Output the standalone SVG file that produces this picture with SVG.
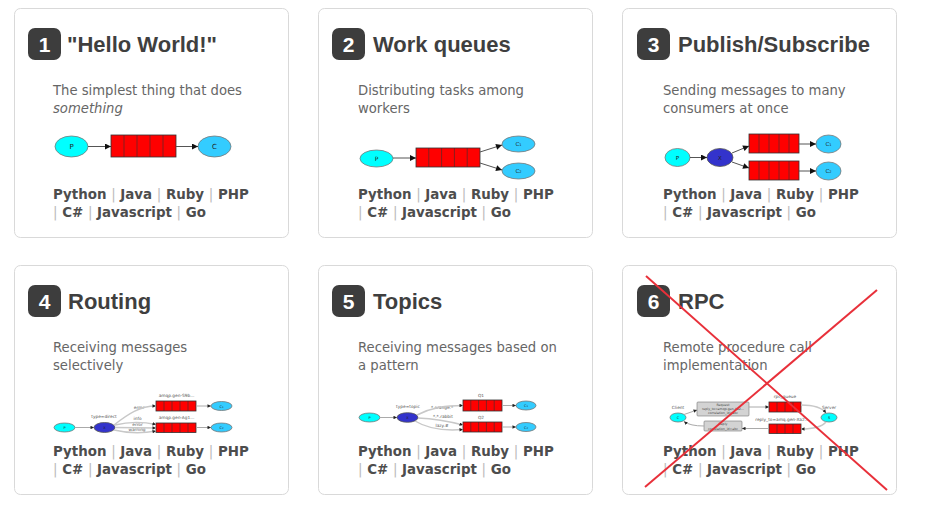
<svg xmlns="http://www.w3.org/2000/svg" width="930" height="511" viewBox="0 0 930 511">
<style>
.card{fill:#fff;stroke:#d9d9d9;stroke-width:1}
.badge{fill:#3d3d3d}
.num{font-family:"Liberation Sans",Arial,sans-serif;font-weight:bold;font-size:21px;fill:#fff;text-anchor:middle}
.title{font-family:"Liberation Sans",Arial,sans-serif;font-weight:bold;font-size:22px;fill:#3f3f3f}
.desc{font-family:"DejaVu Sans",Verdana,sans-serif;font-size:13.2px;fill:#666}
.links{font-family:"DejaVu Sans",Verdana,sans-serif;font-weight:bold;font-size:13.4px;fill:#4d4d4d}
.sep{fill:#bbb;font-weight:normal}
.prod{fill:#00ffff;stroke:#777;stroke-width:0.8}
.cons{fill:#33ccff;stroke:#777;stroke-width:0.8}
.exch{fill:#3333cc;stroke:#555;stroke-width:0.8}
.q{fill:#ff0000;stroke:#333;stroke-width:0.8}
.cell{stroke:#333;stroke-width:0.6}
.box{fill:#d3d3d3;stroke:#777;stroke-width:0.6}
.lbl{font-family:"DejaVu Sans",Verdana,sans-serif;fill:#222;text-anchor:middle}
.tiny{font-family:"DejaVu Sans",Verdana,sans-serif;font-size:4.3px;fill:#555;text-anchor:middle}
.mic{font-family:"DejaVu Sans",Verdana,sans-serif;font-size:3.2px;fill:#444;text-anchor:middle}
.arr{fill:none;stroke:#555;stroke-width:1;marker-end:url(#ah)}
.arrs{fill:none;stroke:#aaa;stroke-width:1;marker-end:url(#ahs)}
.curve{fill:none;stroke:#c8c8c8;stroke-width:1.4;marker-end:url(#ahs)}
.cross{stroke:#e8303a;stroke-width:2;fill:none}
</style>
<defs>
<marker id="ah" viewBox="0 0 10 10" refX="10" refY="5" markerWidth="7" markerHeight="6" markerUnits="userSpaceOnUse" orient="auto"><path d="M0,0 L10,5 L0,10 z" fill="#111"/></marker>
<marker id="ahs" viewBox="0 0 10 10" refX="10" refY="5" markerWidth="4" markerHeight="3.5" markerUnits="userSpaceOnUse" orient="auto"><path d="M0,0 L10,5 L0,10 z" fill="#222"/></marker>
</defs>

<!-- Card 1 -->
<g id="card1">
<rect class="card" x="14.5" y="8.5" width="274" height="229" rx="6"/>
<rect class="badge" x="28" y="28" width="33" height="32" rx="7"/>
<text class="num" x="44.5" y="52">1</text>
<text class="title" x="67" y="52">"Hello World!"</text>
<text class="desc" x="53" y="95">The simplest thing that does</text>
<text class="desc" x="53" y="113" font-style="italic">something</text>
<ellipse class="prod" cx="71.5" cy="146.5" rx="16.5" ry="10.5"/>
<text class="lbl" x="71.5" y="149" font-size="7">P</text>
<rect class="q" x="111" y="135" width="65" height="22"/>
<path class="cell" d="M124,135V157M137,135V157M150,135V157M163,135V157"/>
<ellipse class="cons" cx="214.5" cy="146.5" rx="16.5" ry="10.5"/>
<text class="lbl" x="214.5" y="149" font-size="7">C</text>
<text class="links" x="53" y="199">Python <tspan class="sep">|</tspan> Java <tspan class="sep">|</tspan> Ruby <tspan class="sep">|</tspan> PHP</text>
<text class="links" x="53" y="217"><tspan class="sep">|</tspan> C# <tspan class="sep">|</tspan> Javascript <tspan class="sep">|</tspan> Go</text>
</g>

<!-- Card 2 -->
<g id="card2">
<rect class="card" x="318.5" y="8.5" width="274" height="229" rx="6"/>
<rect class="badge" x="332" y="28" width="33" height="32" rx="7"/>
<text class="num" x="348.5" y="52">2</text>
<text class="title" x="373" y="52">Work queues</text>
<text class="desc" x="358" y="95">Distributing tasks among</text>
<text class="desc" x="358" y="113">workers</text>
<ellipse class="prod" cx="376.5" cy="158.5" rx="16.5" ry="8.5"/>
<text class="lbl" x="376.5" y="161" font-size="6" fill="#555">P</text>
<rect class="q" x="416" y="148" width="64" height="19"/>
<path class="cell" d="M428.8,148V167M441.6,148V167M454.4,148V167M467.2,148V167"/>
<ellipse class="cons" cx="518.5" cy="144" rx="16.5" ry="8"/>
<text class="lbl" x="518.5" y="146" font-size="5.5" fill="#555">C<tspan font-size="3.5">1</tspan></text>
<ellipse class="cons" cx="518.5" cy="171" rx="16.5" ry="8"/>
<text class="lbl" x="518.5" y="173" font-size="5.5" fill="#555">C<tspan font-size="3.5">2</tspan></text>
<text class="links" x="358" y="199">Python <tspan class="sep">|</tspan> Java <tspan class="sep">|</tspan> Ruby <tspan class="sep">|</tspan> PHP</text>
<text class="links" x="358" y="217"><tspan class="sep">|</tspan> C# <tspan class="sep">|</tspan> Javascript <tspan class="sep">|</tspan> Go</text>
</g>

<!-- Card 3 -->
<g id="card3">
<rect class="card" x="622.5" y="8.5" width="274" height="229" rx="6"/>
<rect class="badge" x="637" y="28" width="33" height="32" rx="7"/>
<text class="num" x="653.5" y="52">3</text>
<text class="title" x="678" y="52">Publish/Subscribe</text>
<text class="desc" x="663" y="95">Sending messages to many</text>
<text class="desc" x="663" y="113">consumers at once</text>
<ellipse class="prod" cx="677.5" cy="157.5" rx="12.5" ry="9"/>
<text class="lbl" x="677.5" y="159.5" font-size="5.5" fill="#555">P</text>
<ellipse class="exch" cx="720" cy="157.5" rx="13" ry="9"/>
<text class="lbl" x="720" y="159.5" font-size="5.5" fill="#222">X</text>
<rect class="q" x="749" y="134" width="50" height="19"/>
<path class="cell" d="M759,134V153M769,134V153M779,134V153M789,134V153"/>
<rect class="q" x="749" y="161" width="50" height="19"/>
<path class="cell" d="M759,161V180M769,161V180M779,161V180M789,161V180"/>
<ellipse class="cons" cx="828.5" cy="144" rx="12.5" ry="9"/>
<text class="lbl" x="828.5" y="146" font-size="5.5" fill="#555">C<tspan font-size="3.5">1</tspan></text>
<ellipse class="cons" cx="828.5" cy="171" rx="12.5" ry="9"/>
<text class="lbl" x="828.5" y="173" font-size="5.5" fill="#555">C<tspan font-size="3.5">2</tspan></text>
<text class="links" x="663" y="199">Python <tspan class="sep">|</tspan> Java <tspan class="sep">|</tspan> Ruby <tspan class="sep">|</tspan> PHP</text>
<text class="links" x="663" y="217"><tspan class="sep">|</tspan> C# <tspan class="sep">|</tspan> Javascript <tspan class="sep">|</tspan> Go</text>
</g>

<!-- Card 4 -->
<g id="card4">
<rect class="card" x="14.5" y="265.5" width="274" height="229" rx="6"/>
<rect class="badge" x="28" y="285" width="33" height="32" rx="7"/>
<text class="num" x="44.5" y="309">4</text>
<text class="title" x="68" y="309">Routing</text>
<text class="desc" x="53" y="352">Receiving messages</text>
<text class="desc" x="53" y="370">selectively</text>
<ellipse class="prod" cx="64.5" cy="427.5" rx="10.5" ry="4.5"/>
<text class="lbl" x="64.5" y="429" font-size="3.5" fill="#555">P</text>
<ellipse class="exch" cx="104.5" cy="427.5" rx="10.5" ry="5"/>
<text class="lbl" x="104.5" y="429" font-size="3.5">X</text>
<text class="tiny" x="104" y="418">type=direct</text>
<rect class="q" x="156" y="401" width="40" height="10"/>
<path class="cell" d="M164,401V411M172,401V411M180,401V411M188,401V411"/>
<text class="tiny" x="176.5" y="396.5">amqp.gen-S9b...</text>
<rect class="q" x="156" y="423" width="40" height="9.5"/>
<path class="cell" d="M164,423V432.5M172,423V432.5M180,423V432.5M188,423V432.5"/>
<text class="tiny" x="176.5" y="418.5">amqp.gen-Ag1...</text>
<ellipse class="cons" cx="221.5" cy="406" rx="10.5" ry="4.5"/>
<text class="lbl" x="221.5" y="407.5" font-size="3.5" fill="#555">C<tspan font-size="2.5">1</tspan></text>
<ellipse class="cons" cx="221.5" cy="427.5" rx="10.5" ry="4.5"/>
<text class="lbl" x="221.5" y="429" font-size="3.5" fill="#555">C<tspan font-size="2.5">2</tspan></text>
<text class="tiny" x="139" y="409">error</text>
<text class="tiny" x="137.5" y="420">info</text>
<text class="tiny" x="137.5" y="425.5">error</text>
<text class="tiny" x="137" y="431">warning</text>
<text class="links" x="53" y="456">Python <tspan class="sep">|</tspan> Java <tspan class="sep">|</tspan> Ruby <tspan class="sep">|</tspan> PHP</text>
<text class="links" x="53" y="474"><tspan class="sep">|</tspan> C# <tspan class="sep">|</tspan> Javascript <tspan class="sep">|</tspan> Go</text>
</g>

<!-- Card 5 -->
<g id="card5">
<rect class="card" x="318.5" y="265.5" width="274" height="229" rx="6"/>
<rect class="badge" x="332" y="285" width="33" height="32" rx="7"/>
<text class="num" x="348.5" y="309">5</text>
<text class="title" x="373" y="309">Topics</text>
<text class="desc" x="358" y="352">Receiving messages based on</text>
<text class="desc" x="358" y="370">a pattern</text>
<ellipse class="prod" cx="369.5" cy="417.5" rx="10.5" ry="4.5"/>
<text class="lbl" x="369.5" y="419" font-size="3.5" fill="#555">P</text>
<ellipse class="exch" cx="407.5" cy="417.5" rx="10.5" ry="4.8"/>
<text class="lbl" x="407.5" y="419" font-size="3.5">X</text>
<text class="tiny" x="408" y="408">type=topic</text>
<rect class="q" x="463" y="400" width="39" height="11"/>
<path class="cell" d="M470.8,400V411M478.6,400V411M486.4,400V411M494.2,400V411"/>
<text class="tiny" x="481" y="397">Q1</text>
<rect class="q" x="463" y="422" width="39" height="10"/>
<path class="cell" d="M470.8,422V432M478.6,422V432M486.4,422V432M494.2,422V432"/>
<text class="tiny" x="481" y="419">Q2</text>
<ellipse class="cons" cx="526" cy="405.5" rx="10" ry="4.5"/>
<text class="lbl" x="526" y="407" font-size="3.5" fill="#555">C<tspan font-size="2.5">1</tspan></text>
<ellipse class="cons" cx="526" cy="427" rx="10" ry="4.5"/>
<text class="lbl" x="526" y="428.5" font-size="3.5" fill="#555">C<tspan font-size="2.5">2</tspan></text>
<text class="tiny" x="442" y="408.5">*.orange.*</text>
<text class="tiny" x="443" y="417.5">*.*.rabbit</text>
<text class="tiny" x="442" y="427">lazy.#</text>
<text class="links" x="358" y="456">Python <tspan class="sep">|</tspan> Java <tspan class="sep">|</tspan> Ruby <tspan class="sep">|</tspan> PHP</text>
<text class="links" x="358" y="474"><tspan class="sep">|</tspan> C# <tspan class="sep">|</tspan> Javascript <tspan class="sep">|</tspan> Go</text>
</g>

<!-- Card 6 -->
<g id="card6">
<rect class="card" x="622.5" y="265.5" width="274" height="229" rx="6"/>
<rect class="badge" x="637" y="285" width="33" height="32" rx="7"/>
<text class="num" x="653.5" y="309">6</text>
<text class="title" x="678" y="309">RPC</text>
<text class="desc" x="663" y="352">Remote procedure call</text>
<text class="desc" x="663" y="370">implementation</text>
<ellipse class="prod" cx="678" cy="417.5" rx="8" ry="4.5"/>
<text class="lbl" x="678" y="419" font-size="3.5" fill="#555">C</text>
<text class="tiny" x="678" y="409">Client</text>
<rect class="box" x="697" y="402" width="52" height="14" rx="1"/>
<text class="mic" x="723" y="406">Request</text>
<text class="mic" x="723" y="410">reply_to=amqp.gen-Xa2...</text>
<text class="mic" x="723" y="414">correlation_id=abc</text>
<rect class="q" x="769" y="402" width="32" height="10"/>
<path class="cell" d="M777,402V412M785,402V412M793,402V412"/>
<text class="tiny" x="785" y="398">rpc_queue</text>
<ellipse class="prod" cx="829" cy="417.5" rx="8" ry="4.5"/>
<text class="lbl" x="829" y="419" font-size="3.5" fill="#555">S</text>
<text class="tiny" x="829" y="409">Server</text>
<rect class="q" x="769" y="424" width="32" height="9.5"/>
<path class="cell" d="M777,424V433.5M785,424V433.5M793,424V433.5"/>
<text class="tiny" x="782" y="420.5">reply_to=amq.gen-Xa2...</text>
<rect class="box" x="704" y="421" width="38" height="10" rx="1"/>
<text class="mic" x="723" y="425">Reply</text>
<text class="mic" x="723" y="429.5">correlation_id=abc</text>
<text class="links" x="663" y="456">Python <tspan class="sep">|</tspan> Java <tspan class="sep">|</tspan> Ruby <tspan class="sep">|</tspan> PHP</text>
<text class="links" x="663" y="474"><tspan class="sep">|</tspan> C# <tspan class="sep">|</tspan> Javascript <tspan class="sep">|</tspan> Go</text>
</g>

<g id="connectors">
<!-- 1 -->
<path class="arr" d="M88,146.5H111"/>
<path class="arr" d="M176,146.5H198"/>
<!-- 2 -->
<path class="arr" d="M393,158H416"/>
<path class="arr" d="M480,152L502,145"/>
<path class="arr" d="M480,163L502,170"/>
<!-- 3 -->
<path class="arr" d="M690,157.5H707"/>
<path class="arr" d="M732,153L749,146"/>
<path class="arr" d="M732,162L749,168"/>
<path class="arr" d="M799,144H816"/>
<path class="arr" d="M799,171H816"/>
<!-- 4 -->
<path class="arrs" d="M75,427.5H94"/>
<path class="curve" d="M114,425C128,414 140,406 156,406"/>
<path class="curve" d="M115,425Q135,420 156,424.5"/>
<path class="curve" d="M115,427.5L156,428"/>
<path class="curve" d="M114,430Q135,435 156,431"/>
<path class="arrs" d="M196,406H211"/>
<path class="arrs" d="M196,427.5H211"/>
<!-- 5 -->
<path class="arrs" d="M380,417.5H397"/>
<path class="curve" d="M417,415C433,407 446,405.5 463,405.5"/>
<path class="curve" d="M418,418Q440,419 463,425"/>
<path class="curve" d="M415,421Q433,432 463,429.5"/>
<path class="arrs" d="M502,405.5H516"/>
<path class="arrs" d="M502,427H516"/>
<!-- 6 -->
<path class="arrs" d="M684,414.5L697,410"/>
<path class="arrs" d="M749,407H769"/>
<path class="curve" d="M801,405Q820,405 826,413"/>
<path class="curve" d="M826,422Q820,429 801,429"/>
<path class="arrs" d="M769,428.5H742"/>
<path class="arrs" d="M704,426Q690,426 684,421.5"/>
</g>

<g id="crossout">
<path class="cross" d="M646,276L887,490"/>
<path class="cross" d="M877,290L645,487"/>
</g>
</svg>
